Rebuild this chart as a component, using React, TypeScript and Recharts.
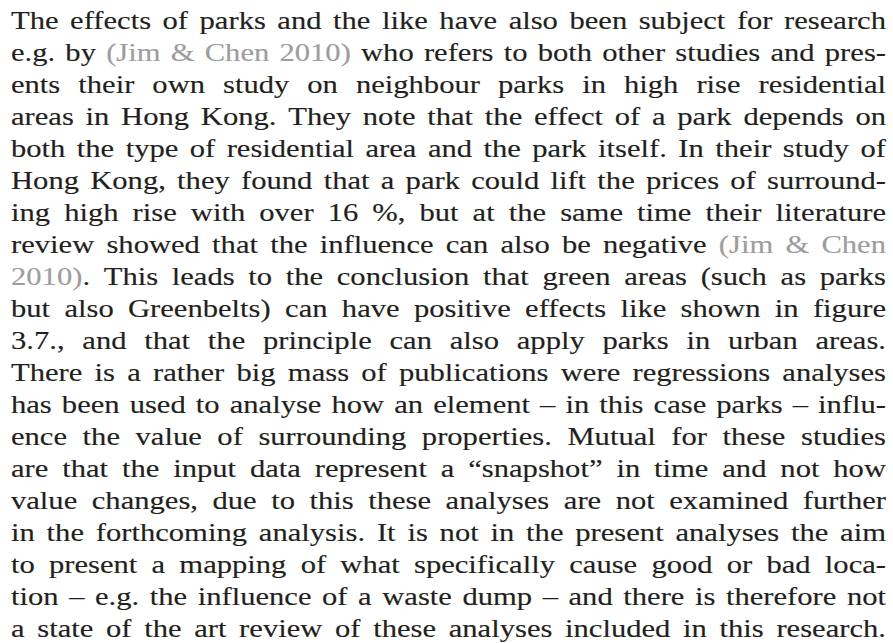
import React from 'react';
import { Surface, Layer } from 'recharts';

// ---- data: the paragraph, one entry per printed line; {...} marks a citation (grey) ----
const textLines: string[] = [
  'The effects of parks and the like have also been subject for research',
  'e.g. by {(Jim & Chen 2010)} who refers to both other studies and pres-',
  'ents their own study on neighbour parks in high rise residential',
  'areas in Hong Kong. They note that the effect of a park depends on',
  'both the type of residential area and the park itself. In their study of',
  'Hong Kong, they found that a park could lift the prices of surround-',
  'ing high rise with over 16 %, but at the same time their literature',
  'review showed that the influence can also be negative {(Jim & Chen}',
  '{2010)}. This leads to the conclusion that green areas (such as parks',
  'but also Greenbelts) can have positive effects like shown in figure',
  '3.7., and that the principle can also apply parks in urban areas.',
  'There is a rather big mass of publications were regressions analyses',
  'has been used to analyse how an element \u2013 in this case parks \u2013 influ-',
  'ence the value of surrounding properties. Mutual for these studies',
  'are that the input data represent a \u201csnapshot\u201d in time and not how',
  'value changes, due to this these analyses are not examined further',
  'in the forthcoming analysis. It is not in the present analyses the aim',
  'to present a mapping of what specifically cause good or bad loca-',
  'tion \u2013 e.g. the influence of a waste dump \u2013 and there is therefore not',
  'a state of the art review of these analyses included in this research.',
];

// ---- layout / style ----
const WIDTH = 893;
const HEIGHT = 643;
const LEFT = 11;
const RIGHT = 886;
const FIRST_BASELINE = 29;
const LINE_STEP = 32;
const FONT_FAMILY = 'Liberation Serif';
const FONT_SIZE = 25.5;
const SCALE_X = 1.2;
const TEXT_COLOR = '#231f20';
const CITE_COLOR = '#9d9d9d';

type Piece = { text: string; cite: boolean };
type Word = Piece[];

function parseLine(line: string): Word[] {
  const words: Word[] = [];
  let cur: Word = [];
  let buf = '';
  let cite = false;
  const flushPiece = () => {
    if (buf.length) {
      cur.push({ text: buf, cite });
      buf = '';
    }
  };
  for (const ch of line) {
    if (ch === '{' || ch === '}') {
      flushPiece();
      cite = ch === '{';
    } else if (ch === ' ') {
      flushPiece();
      if (cur.length) words.push(cur);
      cur = [];
    } else {
      buf += ch;
    }
  }
  flushPiece();
  if (cur.length) words.push(cur);
  return words;
}

let ctx: CanvasRenderingContext2D | null = null;
function measure(s: string): number {
  if (!ctx) {
    const c = document.createElement('canvas');
    ctx = c.getContext('2d');
  }
  if (!ctx) return s.length * FONT_SIZE * 0.5;
  ctx.font = `${FONT_SIZE}px "${FONT_FAMILY}"`;
  return ctx.measureText(s).width;
}

function JustifiedLine({ line, index }: { line: string; index: number }) {
  const words = parseLine(line);
  const widths = words.map((w) => measure(w.map((p) => p.text).join('')) * SCALE_X);
  const total = widths.reduce((a, b) => a + b, 0);
  const gap = words.length > 1 ? (RIGHT - LEFT - total) / (words.length - 1) : 0;
  const y = FIRST_BASELINE + index * LINE_STEP;
  let x = LEFT;
  return (
    <Layer>
      {words.map((w, i) => {
        const wx = x;
        x += widths[i] + gap;
        return (
          <text
            key={i}
            x={0}
            y={0}
            transform={`translate(${wx},${y}) scale(${SCALE_X},1)`}
            fontFamily={`"${FONT_FAMILY}", serif`}
            fontSize={FONT_SIZE}
            fill={TEXT_COLOR}
            stroke={TEXT_COLOR}
            strokeWidth={0.15}
          >
            {w.map((p, j) => (
              <tspan
                key={j}
                fill={p.cite ? CITE_COLOR : TEXT_COLOR}
                stroke={p.cite ? CITE_COLOR : TEXT_COLOR}
              >
                {p.text}
              </tspan>
            ))}
          </text>
        );
      })}
    </Layer>
  );
}

export default function App() {
  return (
    <div style={{ position: 'absolute', left: 0, top: 0, width: WIDTH, height: HEIGHT, background: '#ffffff' }}>
      <Surface width={WIDTH} height={HEIGHT}>
        {textLines.map((l, i) => (
          <JustifiedLine key={i} line={l} index={i} />
        ))}
      </Surface>
    </div>
  );
}
